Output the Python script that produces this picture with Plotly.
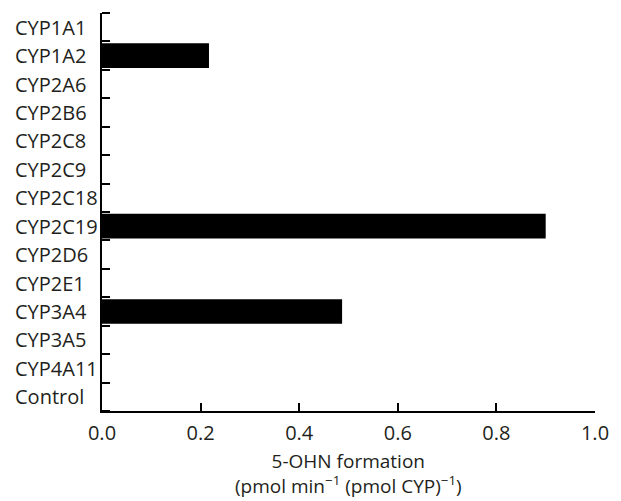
import plotly.graph_objects as go

categories = ["CYP1A1", "CYP1A2", "CYP2A6", "CYP2B6", "CYP2C8", "CYP2C9", "CYP2C18",
              "CYP2C19", "CYP2D6", "CYP2E1", "CYP3A4", "CYP3A5", "CYP4A11", "Control"]
values = [0, 0.217, 0, 0, 0, 0, 0, 0.90, 0, 0, 0.487, 0, 0, 0]
x_ticks = [0.0, 0.2, 0.4, 0.6, 0.8, 1.0]
x_ticktext = ["0.0", "0.2", "0.4", "0.6", "0.8", "1.0"]
title_lines = ["5-OHN formation",
               "(pmol min<sup>\u22121</sup> (pmol CYP)<sup>\u22121</sup>)"]

positions = list(range(len(categories)))
font_family = "Open Sans, Noto Sans, sans-serif"
txt_color = "#231f20"
fsize = 20

fig = go.Figure(go.Bar(
    x=values, y=positions, orientation="h",
    marker=dict(color="black", line=dict(width=0)),
    width=0.87,
))

annotations = []
for pos, name in zip(positions, categories):
    annotations.append(dict(
        text=name, x=-0.18, xref="paper", y=pos, yref="y",
        xanchor="left", yanchor="middle", showarrow=False,
        font=dict(family=font_family, size=fsize, color=txt_color),
    ))
annotations.append(dict(
    text="<br>".join(title_lines), x=0.5, xref="paper", y=-0.158, yref="paper",
    xanchor="center", yanchor="middle", showarrow=False, align="center",
    font=dict(family=font_family, size=19, color=txt_color),
))

fig.update_layout(
    width=621, height=501,
    margin=dict(l=102, r=18, t=13, b=90),
    plot_bgcolor="white", paper_bgcolor="white",
    showlegend=False,
    font=dict(family=font_family, size=fsize, color=txt_color),
    xaxis=dict(
        range=[0, 1.0], tickmode="array", tickvals=x_ticks, ticktext=x_ticktext,
        ticks="inside", ticklen=8, tickwidth=1.5, tickcolor="black",
        ticklabelstandoff=3,
        showline=True, linecolor="black", linewidth=1.5,
        showgrid=False, zeroline=False,
    ),
    yaxis=dict(
        range=[13.5, -0.5], tickmode="array", tickvals=positions,
        showticklabels=False,
        ticks="", showline=True, linecolor="black", linewidth=1.5,
        showgrid=False, zeroline=False,
        minor=dict(tick0=0.5, dtick=1, ticks="inside", ticklen=8, tickwidth=1.5,
                   tickcolor="black", showgrid=False),
    ),
    annotations=annotations,
)

fig.write_html("out.html")
